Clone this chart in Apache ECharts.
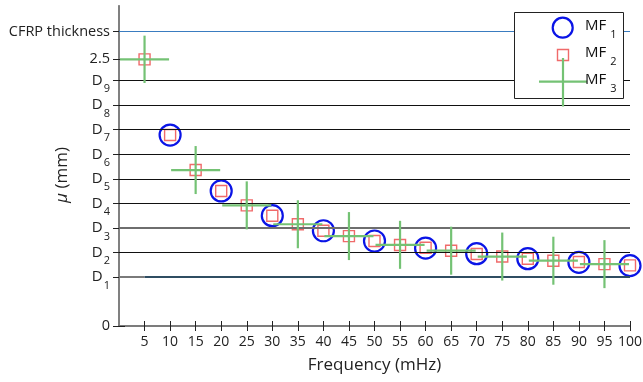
<!DOCTYPE html>
<html>
<head>
<meta charset="utf-8">
<script src="https://cdn.jsdelivr.net/npm/echarts@6/dist/echarts.min.js"></script>
<style>
html,body{margin:0;padding:0;background:#fff;}
#c{width:643px;height:382px;}
</style>
</head>
<body>
<div id="c"></div>
<script>
// ---- data ----
var mf1X = [10, 20, 30, 40, 50, 60, 70, 80, 90, 100];
var mf1Y = [1.79, 1.266, 1.034, 0.893, 0.797, 0.73, 0.678, 0.631, 0.597, 0.566];

var mf2X = [5, 10, 15, 20, 25, 30, 35, 40, 45, 50, 55, 60, 65, 70, 75, 80, 85, 90, 95, 100];
var mf2Y = [2.5, 1.79, 1.462, 1.266, 1.131, 1.034, 0.954, 0.893, 0.843, 0.797, 0.76, 0.733, 0.705, 0.675, 0.652, 0.631, 0.612, 0.6, 0.58, 0.568];

var mf3X = [5, 15, 25, 35, 45, 55, 65, 75, 85, 95];
var mf3Y = [2.5, 1.462, 1.131, 0.954, 0.843, 0.761, 0.706, 0.651, 0.612, 0.58];
var mf3XHalf = [4.8, 4.8, 4.8, 4.8, 4.8, 4.8, 4.8, 4.8, 4.8, 4.8];
var mf3YHalf = [0.222, 0.225, 0.225, 0.225, 0.225, 0.225, 0.225, 0.225, 0.225, 0.225];

var xTicks = [5, 10, 15, 20, 25, 30, 35, 40, 45, 50, 55, 60, 65, 70, 75, 80, 85, 90, 95, 100];
var yTickValues = [0, 0.46, 0.69, 0.92, 1.15, 1.38, 1.61, 1.84, 2.07, 2.3, 2.5, 2.76];
var yTickLabels = ['0', 'D|1', 'D|2', 'D|3', 'D|4', 'D|5', 'D|6', 'D|7', 'D|8', 'D|9', '2.5', 'CFRP thickness'];
var depthLines = [0.46, 0.69, 0.92, 1.15, 1.38, 1.61, 1.84, 2.07, 2.3];
var cfrpThickness = 2.76;

// ---- chart ----
var FONT = 'Open Sans';
var chart = echarts.init(document.getElementById('c'), null, {renderer: 'canvas'});

function yLabel(v) {
  var idx = -1, best = 1e9;
  for (var i = 0; i < yTickValues.length; i++) {
    var d = Math.abs(yTickValues[i] - v);
    if (d < best) { best = d; idx = i; }
  }
  var s = yTickLabels[idx];
  if (s.indexOf('D|') === 0) return '{d|D}{s|' + s.slice(2) + '}';
  return '{n|' + s + '}';
}

var mf3Data = mf3X.map(function (x, i) { return [x, mf3Y[i], mf3XHalf[i], mf3YHalf[i]]; });

var lineData = [];
depthLines.forEach(function (v, i) {
  if (i === 0) {
    lineData.push([{coord: [0, v], lineStyle: {color: '#7a7a7a', width: 2, type: 'solid'}}, {coord: [5, v]}]);
    lineData.push([{coord: [5, v], lineStyle: {color: '#2f4d62', width: 2, type: 'solid'}}, {coord: [100, v]}]);
  } else if (i === 2) {
    lineData.push({yAxis: v, lineStyle: {color: '#6e6e6e', width: 2, type: 'solid'}});
  } else {
    lineData.push({yAxis: v, lineStyle: {color: '#111', width: 1.2, type: 'solid'}});
  }
});
lineData.push({yAxis: cfrpThickness, lineStyle: {color: '#3a7cc0', width: 1.2, type: 'solid'}});

var legRich = {
  m: {fontFamily: FONT, fontSize: 15, fill: '#111', lineHeight: 28, verticalAlign: 'middle'},
  s: {fontFamily: FONT, fontSize: 11, fill: '#111', lineHeight: 28, verticalAlign: 'bottom', padding: [0, 0, 0, 4]}
};

var option = {
  animation: false,
  backgroundColor: '#fff',
  textStyle: {fontFamily: FONT},
  grid: {left: 119, right: 13, top: 6, bottom: 56, containLabel: false, outerBoundsMode: 'none'},
  xAxis: [{
    type: 'value', min: 0, max: 100, interval: 5,
    name: 'Frequency (mHz)', nameLocation: 'middle', nameGap: 31,
    nameTextStyle: {fontFamily: FONT, fontSize: 17, color: '#222'},
    axisLine: {show: true, lineStyle: {color: '#444', width: 1.5}},
    axisTick: {show: true, inside: true, length: 5, lineStyle: {color: '#222', width: 1}, customValues: xTicks},
    axisLabel: {show: true, margin: 9, fontFamily: FONT, fontSize: 14, color: '#222', customValues: xTicks},
    splitLine: {show: false}
  }, {
    type: 'value', min: 0, max: 100, interval: 5, position: 'top',
    axisLine: {show: true, lineStyle: {color: '#808080', width: 1.5}},
    axisTick: {show: true, inside: true, length: 5, lineStyle: {color: '#222', width: 1}, customValues: xTicks},
    axisLabel: {show: false},
    splitLine: {show: false}
  }],
  yAxis: [{
    type: 'value', min: 0, max: 3,
    name: '{i|μ} (mm)', nameLocation: 'middle', nameGap: 48, nameRotate: 90, nameMoveOverlap: false,
    nameTextStyle: {fontFamily: FONT, fontSize: 17, color: '#222', padding: [0, 18, 0, 0], rich: {i: {fontStyle: 'italic', fontFamily: FONT, fontSize: 17, color: '#222'}}},
    axisLine: {show: true, lineStyle: {color: '#808080', width: 2}},
    axisTick: {show: true, inside: true, length: 6, lineStyle: {color: '#222', width: 1}, customValues: yTickValues},
    axisLabel: {
      show: true, margin: 9, customValues: yTickValues, formatter: yLabel,
      rich: {
        d: {fontFamily: FONT, fontSize: 15, color: '#222', lineHeight: 28, verticalAlign: 'middle'},
        s: {fontFamily: FONT, fontSize: 11, color: '#222', lineHeight: 28, verticalAlign: 'bottom', padding: [0, 0, 0, 1]},
        n: {fontFamily: FONT, fontSize: 14.5, color: '#222'}
      }
    },
    splitLine: {show: false}
  }, {
    type: 'value', min: 0, max: 3, position: 'right',
    axisLine: {show: true, lineStyle: {color: '#808080', width: 1.5}},
    axisTick: {show: true, inside: true, length: 6, lineStyle: {color: '#222', width: 1}, customValues: yTickValues},
    axisLabel: {show: false},
    splitLine: {show: false}
  }],
  series: [{
    name: 'lines', type: 'line', data: [], xAxisIndex: 0, yAxisIndex: 0,
    markLine: {silent: true, symbol: ['none', 'none'], label: {show: false}, animation: false, data: lineData},
    z: 1
  }, {
    name: 'MF1', type: 'scatter', xAxisIndex: 0, yAxisIndex: 0,
    data: mf1X.map(function (x, i) { return [x, mf1Y[i]]; }),
    symbol: 'circle', symbolSize: 21,
    itemStyle: {color: 'rgba(0,0,0,0)', borderColor: '#0a14e6', borderWidth: 2.2, opacity: 1},
    z: 3
  }, {
    name: 'MF2', type: 'scatter', xAxisIndex: 0, yAxisIndex: 0,
    data: mf2X.map(function (x, i) { return [x, mf2Y[i]]; }),
    symbol: 'rect', symbolSize: 11,
    itemStyle: {color: 'rgba(0,0,0,0)', borderColor: '#f06a6a', borderWidth: 1.4, opacity: 1},
    z: 4
  }, {
    name: 'MF3', type: 'custom', xAxisIndex: 0, yAxisIndex: 0,
    data: mf3Data,
    z: 5,
    renderItem: function (params, api) {
      var x = api.value(0), y = api.value(1), dx = api.value(2), dy = api.value(3);
      var l = api.coord([x - dx, y]), r = api.coord([x + dx, y]);
      var t = api.coord([x, y + dy]), b = api.coord([x, y - dy]);
      var st = {stroke: '#74c274', lineWidth: 2.2};
      return {type: 'group', children: [
        {type: 'line', shape: {x1: l[0], y1: l[1], x2: r[0], y2: r[1]}, style: st},
        {type: 'line', shape: {x1: t[0], y1: t[1], x2: b[0], y2: b[1]}, style: st}
      ]};
    }
  }],
  graphic: [
    {type: 'rect', z: 100, shape: {x: 514.5, y: 12.5, width: 109, height: 86}, style: {fill: '#fff', stroke: '#222', lineWidth: 1}},
    {type: 'circle', z: 101, shape: {cx: 562.7, cy: 27.7, r: 10}, style: {fill: 'none', stroke: '#0a14e6', lineWidth: 2.2}},
    {type: 'rect', z: 101, shape: {x: 557.5, y: 49.5, width: 11, height: 11}, style: {fill: 'none', stroke: '#f06a6a', lineWidth: 1.4}},
    {type: 'line', z: 101, shape: {x1: 539, y1: 81.7, x2: 587, y2: 81.7}, style: {stroke: '#74c274', lineWidth: 2.2}},
    {type: 'line', z: 101, shape: {x1: 563, y1: 58, x2: 563, y2: 106.5}, style: {stroke: '#74c274', lineWidth: 2.2}},
    {type: 'text', z: 102, x: 585, y: 12, style: {text: '{m|MF}{s|1}', rich: legRich}},
    {type: 'text', z: 102, x: 585, y: 39, style: {text: '{m|MF}{s|2}', rich: legRich}},
    {type: 'text', z: 102, x: 585, y: 66, style: {text: '{m|MF}{s|3}', rich: legRich}}
  ]
};
chart.setOption(option);
</script>
</body>
</html>
